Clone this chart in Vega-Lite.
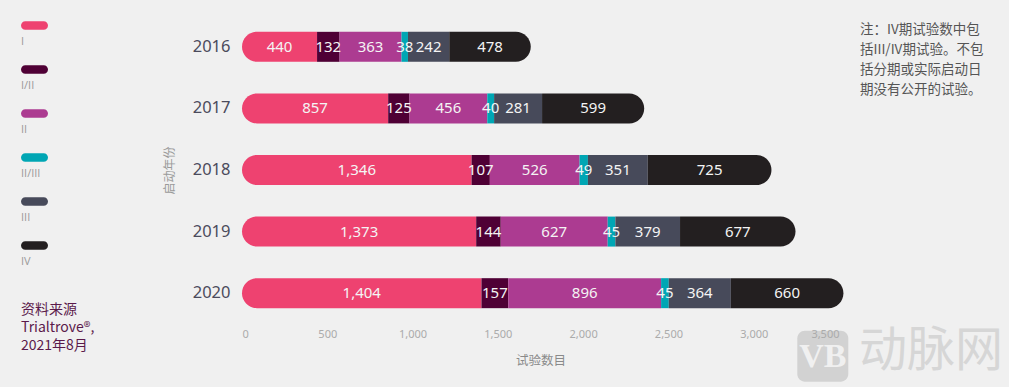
{
  "$schema": "https://vega.github.io/schema/vega-lite/v6.json",
  "width": 597,
  "height": 308,
  "autosize": {"type": "none"},
  "padding": {"left": 242, "top": 16, "right": 170, "bottom": 63},
  "background": "#f0f0f0",
  "config": {
    "view": {"stroke": null},
    "font": "Noto Sans",
    "axis": {"domain": false, "ticks": false, "grid": false}
  },
  "title": {
    "text": ["注：IV期试验数中包", "括III/IV期试验。不包", "括分期或实际启动日", "期没有公开的试验。"],
    "orient": "top",
    "anchor": "end",
    "frame": "group",
    "align": "left",
    "baseline": "top",
    "offset": 0,
    "dx": 21,
    "dy": 84,
    "font": "Noto Sans CJK SC",
    "fontSize": 13.5,
    "fontWeight": "normal",
    "color": "#555555",
    "lineHeight": 20
  },
  "data": {
    "values": [
      {"year": "2016", "phase": "I", "count": 440},
      {"year": "2016", "phase": "I/II", "count": 132},
      {"year": "2016", "phase": "II", "count": 363},
      {"year": "2016", "phase": "II/III", "count": 38},
      {"year": "2016", "phase": "III", "count": 242},
      {"year": "2016", "phase": "IV", "count": 478},
      {"year": "2017", "phase": "I", "count": 857},
      {"year": "2017", "phase": "I/II", "count": 125},
      {"year": "2017", "phase": "II", "count": 456},
      {"year": "2017", "phase": "II/III", "count": 40},
      {"year": "2017", "phase": "III", "count": 281},
      {"year": "2017", "phase": "IV", "count": 599},
      {"year": "2018", "phase": "I", "count": 1346},
      {"year": "2018", "phase": "I/II", "count": 107},
      {"year": "2018", "phase": "II", "count": 526},
      {"year": "2018", "phase": "II/III", "count": 49},
      {"year": "2018", "phase": "III", "count": 351},
      {"year": "2018", "phase": "IV", "count": 725},
      {"year": "2019", "phase": "I", "count": 1373},
      {"year": "2019", "phase": "I/II", "count": 144},
      {"year": "2019", "phase": "II", "count": 627},
      {"year": "2019", "phase": "II/III", "count": 45},
      {"year": "2019", "phase": "III", "count": 379},
      {"year": "2019", "phase": "IV", "count": 677},
      {"year": "2020", "phase": "I", "count": 1404},
      {"year": "2020", "phase": "I/II", "count": 157},
      {"year": "2020", "phase": "II", "count": 896},
      {"year": "2020", "phase": "II/III", "count": 45},
      {"year": "2020", "phase": "III", "count": 364},
      {"year": "2020", "phase": "IV", "count": 660}
    ]
  },
  "layer": [
    {
      "transform": [
        {"stack": "count", "groupby": ["year"], "sort": [{"field": "phase", "order": "ascending"}], "as": ["x0", "x1"]}
      ],
      "encoding": {
        "y": {
          "field": "year", "type": "nominal", "sort": "ascending",
          "scale": {"paddingInner": 0.513, "paddingOuter": 0.257},
          "axis": {
            "title": "启动年份",
            "titleFont": "Noto Sans CJK SC",
            "titleFontSize": 12,
            "titleFontWeight": "normal",
            "titleColor": "#9a9a9a",
            "titlePadding": 16,
            "labelFontSize": 16.5,
            "labelColor": "#4b4b5c",
            "labelPadding": 12
          }
        },
        "x": {
          "field": "x0", "type": "quantitative",
          "scale": {"domain": [0, 3500], "nice": false},
          "axis": {
            "values": [0, 500, 1000, 1500, 2000, 2500, 3000, 3500],
            "format": ",d",
            "title": "试验数目",
            "titleFont": "Noto Sans CJK SC",
            "titleFontSize": 12.5,
            "titleFontWeight": "normal",
            "titleColor": "#8a8a8a",
            "titlePadding": 15,
            "labelFontSize": 11,
            "labelColor": "#ababab",
            "labelPadding": 4,
            "zindex": 1
          }
        },
        "x2": {"field": "x1"},
        "color": {
          "field": "phase", "type": "nominal",
          "scale": {
            "domain": ["I", "I/II", "II", "II/III", "III", "IV"],
            "range": ["#ee4270", "#4f0035", "#ac3b91", "#00a6b4", "#474a5a", "#231f20"]
          },
          "legend": {
            "orient": "none",
            "legendX": -221,
            "legendY": -4,
            "direction": "vertical",
            "padding": 0,
            "symbolType": "M-0.68,-0.32L0.68,-0.32A0.32,0.32 0 0 1 0.68,0.32L-0.68,0.32A0.32,0.32 0 0 1 -0.68,-0.32Z",
            "symbolSize": 729,
            "symbolStrokeWidth": 0,
            "symbolOpacity": 1,
            "labelFont": "Open Sans",
            "labelFontSize": 11,
            "labelColor": "#9a9a9a",
            "labelOffset": 0,
            "rowPadding": 9,
            "title": ["资料来源", "Trialtrove®,", "2021年8月"],
            "titleOrient": "bottom",
            "titleAnchor": "start",
            "titleAlign": "left",
            "titleFont": "Noto Sans CJK SC",
            "titleFontSize": 14,
            "titleFontWeight": "normal",
            "titleColor": "#5b1a4b",
            "titleLineHeight": 18,
            "titlePadding": 36,
            "titleLimit": 300,
            "encode": {
              "labels": {
                "update": {
                  "dx": {"value": -27},
                  "dy": {"value": 16},
                  "font": {"value": "Open Sans"},
                  "fontSize": {"value": 11},
                  "fill": {"value": "#9a9a9a"}
                }
              }
            }
          }
        }
      },
      "layer": [
        {
          "transform": [{"filter": "datum.phase === 'I'"}],
          "mark": {"type": "bar", "cornerRadiusTopLeft": 15, "cornerRadiusBottomLeft": 15}
        },
        {
          "transform": [{"filter": "datum.phase !== 'I' && datum.phase !== 'IV'"}],
          "mark": {"type": "bar"}
        },
        {
          "transform": [{"filter": "datum.phase === 'IV'"}],
          "mark": {"type": "bar", "cornerRadiusTopRight": 15, "cornerRadiusBottomRight": 15}
        }
      ]
    },
    {
      "mark": {"type": "text", "color": "#f4f4f4", "fontSize": 15, "baseline": "middle", "align": "center"},
      "encoding": {
        "y": {"field": "year", "type": "nominal"},
        "x": {"field": "count", "type": "quantitative", "stack": "zero", "bandPosition": 0.5},
        "order": {"field": "phase", "sort": "ascending"},
        "text": {"field": "count", "type": "quantitative", "format": ","}
      }
    },
    {
      "data": {"values": [{"mark": "logo"}]},
      "mark": {
        "type": "point",
        "shape": "M-0.7,-1L0.7,-1A0.3,0.3 0 0 1 1,-0.7L1,0.7A0.3,0.3 0 0 1 0.7,1L-0.7,1A0.3,0.3 0 0 1 -1,0.7L-1,-0.7A0.3,0.3 0 0 1 -0.7,-1Z",
        "size": 2601,
        "filled": true,
        "color": "#d2d2d2",
        "opacity": 1,
        "yOffset": 63
      },
      "encoding": {
        "x": {"datum": 3405, "type": "quantitative"},
        "y": {"datum": "2020", "type": "nominal"}
      }
    },
    {
      "data": {"values": [{"mark": "logo"}]},
      "mark": {"type": "text", "text": "VB", "font": "Liberation Sans Narrow", "fontWeight": "bold", "fontSize": 34, "color": "#f0f0f0", "baseline": "middle", "align": "center", "dy": 64},
      "encoding": {
        "x": {"datum": 3405, "type": "quantitative"},
        "y": {"datum": "2020", "type": "nominal"}
      }
    },
    {
      "data": {"values": [{"mark": "logo"}]},
      "mark": {"type": "text", "text": "动脉网", "font": "Noto Sans CJK SC", "fontSize": 48, "color": "#d6d6d6", "baseline": "middle", "align": "center", "dy": 59},
      "encoding": {
        "x": {"datum": 4040, "type": "quantitative"},
        "y": {"datum": "2020", "type": "nominal"}
      }
    }
  ]
}
